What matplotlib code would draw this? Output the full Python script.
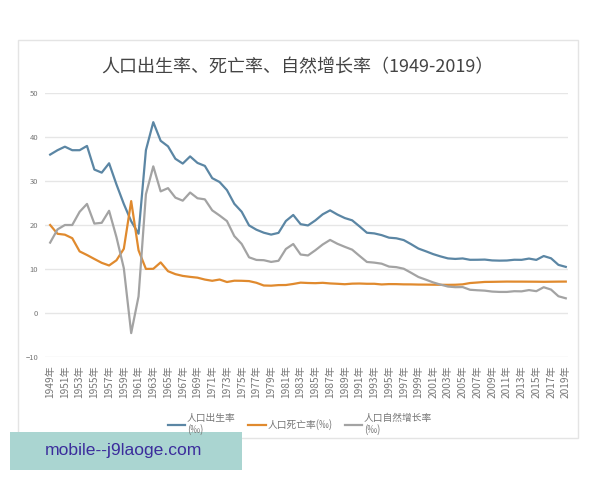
import matplotlib.pyplot as plt
from matplotlib.patches import Rectangle

plt.rcParams['font.family'] = ['Noto Sans CJK SC', 'DejaVu Sans']

years = list(range(1949, 2020))

birth = [36.00, 37.00, 37.80, 37.00, 37.00, 37.97, 32.60, 31.90, 34.03, 29.22,
         24.78, 20.86, 18.02, 37.01, 43.37, 39.14, 37.88, 35.05, 33.96, 35.59,
         34.11, 33.43, 30.65, 29.77, 27.93, 24.82, 23.01, 19.91, 18.93, 18.25,
         17.82, 18.21, 20.91, 22.28, 20.19, 19.90, 21.04, 22.43, 23.33, 22.37,
         21.58, 21.06, 19.68, 18.24, 18.09, 17.70, 17.12, 16.98, 16.57, 15.64,
         14.64, 14.03, 13.38, 12.86, 12.41, 12.29, 12.40, 12.09, 12.10, 12.14,
         11.95, 11.90, 11.93, 12.10, 12.08, 12.37, 12.07, 12.95, 12.43, 10.94,
         10.48]

death = [20.00, 18.00, 17.80, 17.00, 14.00, 13.18, 12.28, 11.40, 10.80, 11.98,
         14.59, 25.43, 14.24, 10.02, 10.04, 11.50, 9.50, 8.83, 8.43, 8.21,
         8.03, 7.60, 7.32, 7.61, 7.04, 7.34, 7.32, 7.25, 6.87, 6.25,
         6.21, 6.34, 6.36, 6.60, 6.90, 6.82, 6.78, 6.86, 6.72, 6.64,
         6.54, 6.67, 6.70, 6.64, 6.64, 6.49, 6.57, 6.56, 6.51, 6.50,
         6.46, 6.45, 6.43, 6.41, 6.40, 6.42, 6.51, 6.81, 6.93, 7.06,
         7.08, 7.11, 7.14, 7.13, 7.13, 7.12, 7.11, 7.09, 7.11, 7.13,
         7.14]

growth = [16.00, 19.00, 20.00, 20.00, 23.00, 24.79, 20.32, 20.50, 23.23, 17.24,
          10.19, -4.57, 3.78, 26.99, 33.33, 27.64, 28.38, 26.22, 25.53, 27.38,
          26.08, 25.83, 23.33, 22.16, 20.89, 17.48, 15.69, 12.66, 12.06, 12.00,
          11.61, 11.87, 14.55, 15.68, 13.29, 13.08, 14.26, 15.57, 16.61, 15.73,
          15.04, 14.39, 12.98, 11.60, 11.45, 11.21, 10.55, 10.42, 10.06, 9.14,
          8.18, 7.58, 6.95, 6.45, 6.01, 5.87, 5.89, 5.28, 5.17, 5.08,
          4.87, 4.79, 4.79, 4.95, 4.92, 5.21, 4.96, 5.86, 5.32, 3.81,
          3.34]

labels = ['人口出生率\n(‰)', '人口死亡率(‰)', '人口自然增长率\n(‰)']
colors = ['#5b86a4', '#e08a2e', '#a3a3a3']
tick_years = years[::2]

fig = plt.figure(figsize=(6, 4.8), dpi=100)

# card behind the chart
fig.patches.append(Rectangle((18 / 600, 1 - 438 / 480), 560 / 600, 398 / 480,
                             transform=fig.transFigure, facecolor='white',
                             edgecolor='#e4e4e4', linewidth=1, zorder=-1))

ax = fig.add_axes([45 / 600, 1 - 357 / 480, 523 / 600, 264 / 480])
ax.set_facecolor('none')
for s, c, lab in zip([birth, death, growth], colors, labels):
    ax.plot(years, s, color=c, linewidth=1.6, label=lab)

ax.set_xlim(1948.3, 2019.3)
ax.set_ylim(-10, 50)
ax.set_yticks(range(-10, 51, 10))
ax.set_xticks(tick_years)
ax.set_xticklabels([f'{y}年' for y in tick_years], rotation=90)
ax.tick_params(axis='x', length=0, labelsize=7.3, labelcolor='#777777', pad=6)
ax.tick_params(axis='y', length=0, labelsize=5.5, labelcolor='#777777', pad=5)
ax.grid(axis='y', color='#e6e6e6', linewidth=1)
ax.set_axisbelow(True)
for sp in ax.spines.values():
    sp.set_visible(False)

fig.text(0.495, 1 - 67 / 480, '人口出生率、死亡率、自然增长率（1949-2019）',
         ha='center', va='center', fontsize=13, color='#444444')

fig.legend(loc='upper center', bbox_to_anchor=(0.5, 1 - 404 / 480), ncol=3,
           frameon=False, fontsize=7, labelcolor='#777777',
           handlelength=1.8, handletextpad=0.15, columnspacing=1.3)

# watermark box
fig.patches.append(Rectangle((10 / 600, 1 - 470 / 480), 232 / 600, 38 / 480,
                             transform=fig.transFigure, facecolor='#aad5d1',
                             edgecolor='none', zorder=5))
fig.text(45 / 600, 1 - 451 / 480, 'mobile--j9laoge.com', ha='left', va='center',
         fontsize=12.6, color='#3b2d9c', family='Liberation Sans', zorder=6)

fig.savefig('out.png', dpi=100)
